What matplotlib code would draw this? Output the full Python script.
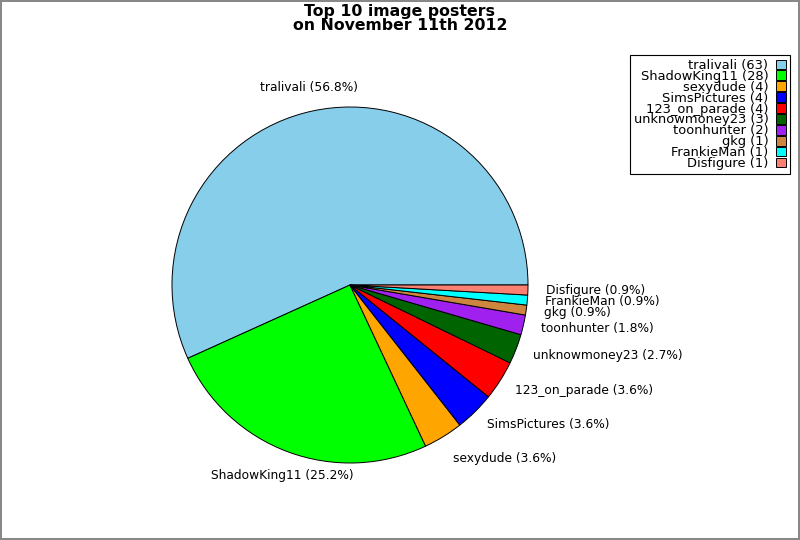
import numpy as np
import matplotlib
matplotlib.use("Agg")
import matplotlib.pyplot as plt

# Poster names and image counts
posters = ["tralivali", "ShadowKing11", "sexydude", "SimsPictures", "123_on_parade",
           "unknowmoney23", "toonhunter", "gkg", "FrankieMan", "Disfigure"]
counts = [63, 28, 4, 4, 4, 3, 2, 1, 1, 1]
colors = ["#87ceeb", "#00ff00", "#ffa500", "#0000ff", "#ff0000",
          "#006400", "#a020f0", "#cd853f", "#00ffff", "#fa8072"]

total = sum(counts)
pie_labels = [f"{p} ({c / total * 100:.1f}%)" for p, c in zip(posters, counts)]
legend_labels = [f"{p} ({c})" for p, c in zip(posters, counts)]

fig = plt.figure(figsize=(8, 5.4), dpi=100)
fig.patch.set_edgecolor("#888888")
fig.patch.set_linewidth(1.5)

# pie centred at (350, 285) px, radius 178 px
ax = fig.add_axes([(350 - 178) / 800, (540 - 285 - 178) / 540, 356 / 800, 356 / 540])
wedges, texts = ax.pie(counts, labels=pie_labels, colors=colors, startangle=0,
                       counterclock=True, labeldistance=1.1,
                       wedgeprops=dict(edgecolor="black", linewidth=0.7),
                       textprops=dict(fontsize=8.8))
ax.set_xlim(-1, 1)
ax.set_ylim(-1, 1)
ax.set_aspect("equal")

for t in texts:
    x, y = t.get_position()
    t.set_ha("left" if x > 0 else "center")
    yn = y / 1.1
    if yn > 0.8:
        t.set_va("bottom")
    elif yn < -0.8:
        t.set_va("top")
    else:
        t.set_va("center")

fig.text(0.5, 0.993, "Top 10 image posters\non November 11th 2012",
         ha="center", va="top", fontsize=11.3, fontweight="bold", linespacing=0.9)

leg = fig.legend(wedges, legend_labels, loc="upper right",
                 bbox_to_anchor=(790 / 800, 1 - 55 / 540),
                 markerfirst=False, fancybox=False, framealpha=1,
                 fontsize=9.4, labelspacing=-0.16, handlelength=0.75,
                 handleheight=0.75, handletextpad=0.6, borderpad=0.3,
                 borderaxespad=0)
leg.get_frame().set_edgecolor("black")
leg.get_frame().set_linewidth(0.8)
for txt in leg.get_texts():
    txt.set_ha("right")
leg._legend_box.align = "right"

fig.savefig("out.png", dpi=100, edgecolor=fig.get_edgecolor())
